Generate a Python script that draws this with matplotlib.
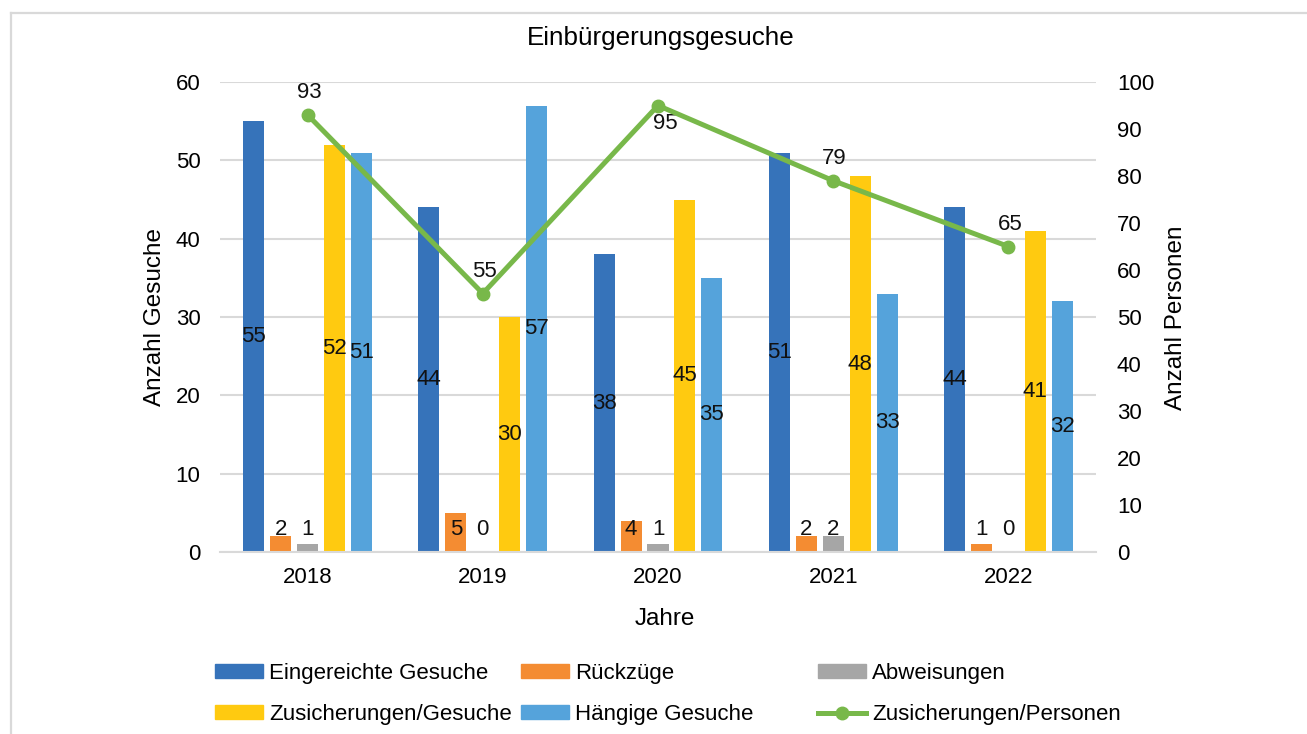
import numpy as np
import matplotlib
matplotlib.use('Agg')
import matplotlib.pyplot as plt
from matplotlib.lines import Line2D
from matplotlib.patches import Patch

plt.rcParams['font.family'] = ['Liberation Sans', 'DejaVu Sans']

# data
years = ['2018', '2019', '2020', '2021', '2022']
eingereicht = [55, 44, 38, 51, 44]
rueckzuege = [2, 5, 4, 2, 1]
abweisungen = [1, 0, 1, 2, 0]
zusich_gesuche = [52, 30, 45, 48, 41]
haengig = [51, 57, 35, 33, 32]
zusich_personen = [93, 55, 95, 79, 65]

series = [('Eingereichte Gesuche', eingereicht, '#3673BA'),
          ('Rückzüge', rueckzuege, '#F48C32'),
          ('Abweisungen', abweisungen, '#A6A6A6'),
          ('Zusicherungen/Gesuche', zusich_gesuche, '#FFCA10'),
          ('Hängige Gesuche', haengig, '#55A3DB')]
green = '#78B84A'
grid_col = '#D9D9D9'
fs = 16
fs_lab = 17.5

W, H = 1307, 734
fig = plt.figure(figsize=(W/100, H/100), dpi=100)

# outer frame (only left and top visible)
fig.add_artist(Line2D([11/W, 11/W], [0, (H-13)/H], color=grid_col, lw=1.6))
fig.add_artist(Line2D([11/W, 1], [(H-13)/H, (H-13)/H], color=grid_col, lw=1.6))

ax1 = fig.add_axes([220/W, (H-552)/H, 876/W, 470/H])
ax2 = ax1.twinx()

x = np.arange(len(years))
step = 0.154
width = 0.12
for i, (name, vals, col) in enumerate(series):
    pos = x + (i - 2)*step
    ax1.bar(pos, vals, width, color=col, zorder=2)
    for p, v in zip(pos, vals):
        ax1.text(p, max(v/2, 2.85), str(v), ha='center', va='center', fontsize=fs, color='#111111', zorder=3)

ax1.set_xlim(-0.5, 4.5)
ax1.set_ylim(0, 60)
ax1.set_yticks(range(0, 61, 10))
ax1.set_xticks(x)
ax1.set_xticklabels(years)
ax1.grid(axis='y', color=grid_col, lw=1.5, zorder=0)
ax1.set_axisbelow(True)
for s in ['top', 'right', 'left']:
    ax1.spines[s].set_visible(False)
ax1.spines['bottom'].set_color(grid_col)
ax1.spines['bottom'].set_linewidth(1.5)
ax1.tick_params(axis='y', length=0, pad=14, labelsize=fs)
ax1.tick_params(axis='x', length=0, pad=11, labelsize=fs)

ax2.plot(x, zusich_personen, color=green, lw=3.6, marker='o', ms=9, zorder=4)
ax2.set_ylim(0, 100)
ax2.set_yticks(range(0, 101, 10))
for s in ax2.spines.values():
    s.set_visible(False)
ax2.tick_params(axis='y', length=0, pad=15, labelsize=fs)
for xi, v in zip(x, zusich_personen):
    if v == max(zusich_personen):
        off = (5, -13)
    else:
        off = (1, 16)
    ax2.annotate(str(v), (xi, v), xytext=off, textcoords='offset points',
                 ha='center', va='center', fontsize=fs, color='#111111')

fig.text(661/W, (H-38)/H, 'Einbürgerungsgesuche', ha='center', va='center', fontsize=18.7)
fig.text(665/W, (H-619)/H, 'Jahre', ha='center', va='center', fontsize=fs_lab)
fig.text(155/W, (H-317)/H, 'Anzahl Gesuche', ha='center', va='center', rotation=90, fontsize=fs_lab)
fig.text(1176/W, (H-318)/H, 'Anzahl Personen', ha='center', va='center', rotation=90, fontsize=fs_lab)

# legend in three columns of equal spacing
handles = [Patch(color=c) for _, _, c in series]
handles.append(Line2D([], [], color=green, lw=3.6, marker='o', ms=9))
labels = [n for n, _, _ in series] + ['Zusicherungen/Personen']
cols = [[0, 3], [1, 4], [2, 5]]
col_x = [215, 521, 818]
for cx, idx in zip(col_x, cols):
    fig.legend([handles[k] for k in idx], [labels[k] for k in idx],
               loc='upper left', bbox_to_anchor=(cx/W, (H-663)/H),
               frameon=False, fontsize=fs, borderpad=0, borderaxespad=0,
               handlelength=2.15, handleheight=0.55, handletextpad=0.3,
               labelspacing=0.9)

fig.savefig('out.png', dpi=100)
